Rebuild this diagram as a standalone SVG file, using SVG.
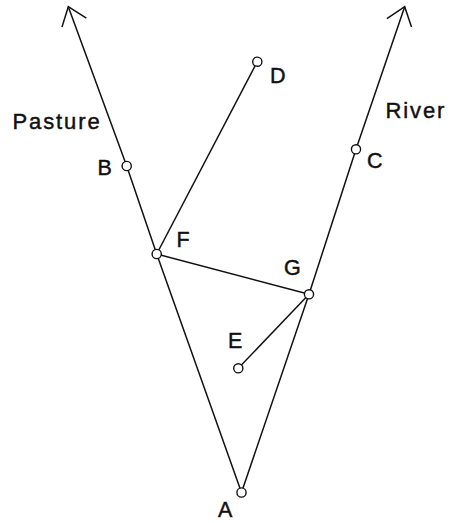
<svg xmlns="http://www.w3.org/2000/svg" width="454" height="523" viewBox="0 0 454 523">
<style>
.edge{fill:none;stroke:#111;stroke-width:1.5;stroke-linejoin:round}
.pt{fill:#fff;stroke:#111;stroke-width:1.4}
.lbl{font-family:"Liberation Sans",Arial,Helvetica,sans-serif;font-size:21.5px;fill:#111;stroke:#111;stroke-width:0.45}
.elbl{font-family:"Liberation Sans",Arial,Helvetica,sans-serif;font-size:22px;fill:#111;stroke:#111;stroke-width:0.45;letter-spacing:1.9px}
</style>
<defs>
<marker id="open" markerUnits="userSpaceOnUse" viewBox="-20 -15 22 30" refX="0" refY="0" markerWidth="22" markerHeight="30" orient="auto" overflow="visible">
<path d="M-17,-13 L0,0 L-17,13" fill="none" stroke="#111" stroke-width="1.5"/>
</marker>
</defs>
<rect width="454" height="523" fill="#fff"/>
<g id="connectors">
<path id="pasture-edge" class="edge" d="M241.5,492.5 L156.7,254 L126.7,166 L68.3,6.7" marker-end="url(#open)"/>
<path id="river-edge" class="edge" d="M241.5,492.5 L309,294.3 L356,149.3 L404.7,6.7" marker-end="url(#open)"/>
<line id="F-D" class="edge" x1="156.7" y1="254" x2="257.3" y2="61.7"/>
<line id="F-G" class="edge" x1="156.7" y1="254" x2="309" y2="294.3"/>
<line id="G-E" class="edge" x1="309" y1="294.3" x2="238.3" y2="368.3"/>
<text class="elbl" x="12.5" y="128.5">Pasture</text>
<text class="elbl" x="385.5" y="117.5">River</text>
</g>
<g id="node-A"><circle class="pt" cx="241.5" cy="492.5" r="4.6"/><text class="lbl" x="218" y="516.5">A</text></g>
<g id="node-B"><circle class="pt" cx="126.7" cy="166" r="4.6"/><text class="lbl" x="97.5" y="175">B</text></g>
<g id="node-C"><circle class="pt" cx="356" cy="149.3" r="4.6"/><text class="lbl" x="367" y="168">C</text></g>
<g id="node-D"><circle class="pt" cx="257.3" cy="61.7" r="4.6"/><text class="lbl" x="270" y="83">D</text></g>
<g id="node-E"><circle class="pt" cx="238.3" cy="368.3" r="4.6"/><text class="lbl" x="228" y="348">E</text></g>
<g id="node-F"><circle class="pt" cx="156.7" cy="254" r="4.6"/><text class="lbl" x="176.5" y="246.5">F</text></g>
<g id="node-G"><circle class="pt" cx="309" cy="294.3" r="4.6"/><text class="lbl" x="284" y="275">G</text></g>
</svg>
